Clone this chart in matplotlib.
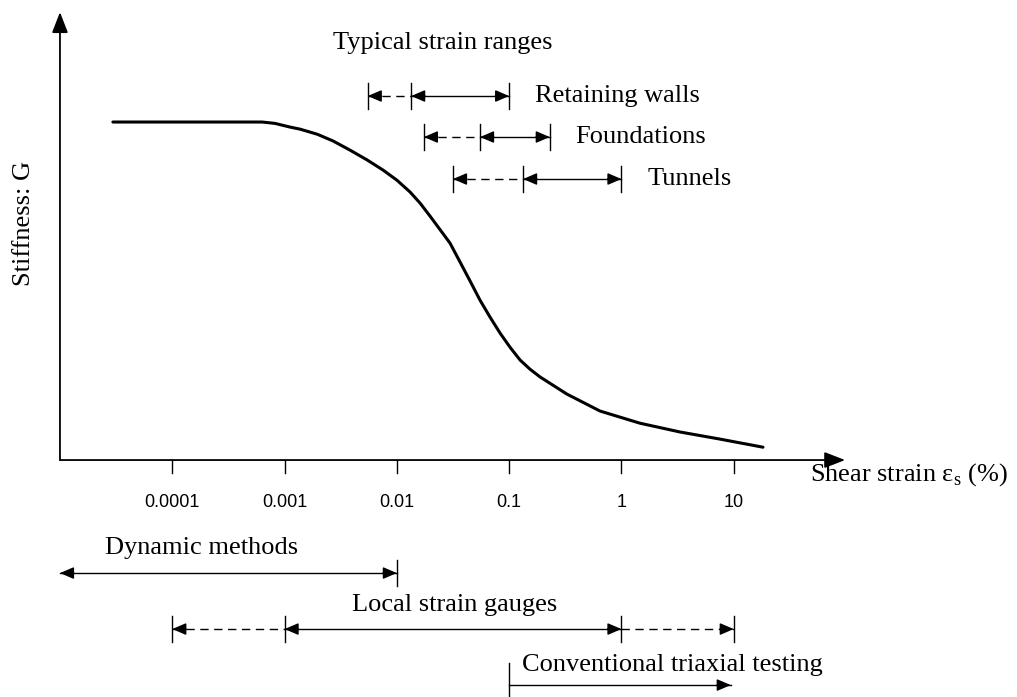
import numpy as np
import matplotlib.pyplot as plt

# stiffness curve (strain in %, G relative to the plateau)
strain = [2.96e-5, 6.3e-4, 8.2e-4, 1.12e-3, 1.37e-3, 1.95e-3, 2.70e-3, 3.82e-3,
          5.42e-3, 7.52e-3, 0.0100, 0.0131, 0.0161, 0.0197, 0.0297, 0.0365,
          0.0448, 0.0550, 0.0675, 0.0828, 0.1016, 0.125, 0.153, 0.188, 0.327,
          0.644, 1.46, 3.32, 7.53, 18.2]
stiffness = [1.0, 1.0, 0.996, 0.985, 0.979, 0.964, 0.944, 0.917,
             0.888, 0.858, 0.828, 0.793, 0.760, 0.722, 0.642, 0.586,
             0.530, 0.473, 0.423, 0.376, 0.334, 0.296, 0.269, 0.246, 0.195,
             0.145, 0.109, 0.083, 0.062, 0.038]

tick_values = [1e-4, 1e-3, 1e-2, 1e-1, 1, 10]
tick_labels = ['0.0001', '0.001', '0.01', '0.1', '1', '10']

# typical strain ranges: dashed low->mid, solid mid->high
structures = ['Retaining walls', 'Foundations', 'Tunnels']
struct_low = [0.0055, 0.0174, 0.0316]
struct_mid = [0.0134, 0.055, 0.133]
struct_high = [0.1, 0.23, 1.0]

# test methods
dynamic_range = [1e-5, 0.01]
local_range = [1e-4, 1e-3, 1, 10]      # dashed, solid, dashed
triaxial_range = [0.1, 9.4]

serif = 'Liberation Serif'
sans = 'Liberation Sans'
px = 1 / 338.0  # one pixel in G units

fig = plt.figure(figsize=(10.17, 6.97), dpi=100)
ax = fig.add_axes([0, 0, 1, 1])
ax.set_xscale('log')
ax.set_xlim(10 ** -5.534, 10 ** 3.522)
ax.set_ylim(-0.701, 1.361)
ax.axis('off')

arrow_kw = dict(arrowstyle='-|>,head_length=0.7,head_width=0.3', color='k',
                lw=1.0, shrinkA=0, shrinkB=0, mutation_scale=12)


def head(x, y, direction):
    # arrowhead pointing left (-1) or right (+1) with its tip at (x, y)
    ax.annotate('', xy=(x, y), xytext=(-direction * 10, 0),
                textcoords='offset points', arrowprops=arrow_kw)


def tick(x, y, up=13, down=13):
    ax.plot([x, x], [y - down * px, y + up * px], color='k', lw=1.0)


def solid(x0, x1, y):
    ax.plot([x0, x1], [y, y], color='k', lw=1.0)
    head(x0, y, -1)
    head(x1, y, 1)


def dashed(x0, x1, y, side):
    ax.plot([x0, x1], [y, y], color='k', lw=1.0, ls=(0, (6, 4)))
    if side < 0:
        head(x0, y, -1)
    else:
        head(x1, y, 1)


# axes with arrows
big_arrow = dict(arrowstyle='-|>,head_length=0.9,head_width=0.35',
                 color='k', lw=1.3, shrinkA=0, shrinkB=0, mutation_scale=14)
ax.annotate('', xy=(1e-5, 1.325), xytext=(1e-5, 0), arrowprops=big_arrow)
ax.annotate('', xy=(98, 0), xytext=(1e-5, 0), arrowprops=big_arrow)
for v, lab in zip(tick_values, tick_labels):
    ax.plot([v, v], [0, -13 * px], color='k', lw=1.0)
    ax.text(v, -42 * px, lab, family=sans, fontsize=13, ha='center', va='center')

ax.text(10 ** 1.68, -15 * px, 'Shear strain ε$_\\mathregular{s}$ (%)', family=serif,
        fontsize=19, ha='left', va='center')
ax.text(10 ** -5.32, 0.70, 'Stiffness: G', family=serif, fontsize=19,
        rotation=90, ha='center', va='center')

# curve
ax.plot(strain, stiffness, color='k', lw=2.2, solid_capstyle='round')

# typical strain ranges
ax.text(10 ** -1.59, (460 - 43) * px, 'Typical strain ranges', family=serif,
        fontsize=19, ha='center', va='center')
ys = [(460 - 96) * px, (460 - 137) * px, (460 - 179) * px]
for name, lo, mid, hi, y in zip(structures, struct_low, struct_mid, struct_high, ys):
    dashed(lo, mid, y, -1)
    solid(mid, hi, y)
    for v in (lo, mid, hi):
        tick(v, y)
    ax.text(hi * 10 ** 0.23, y, name, family=serif, fontsize=19, ha='left', va='center')

# dynamic methods
y = (460 - 573) * px
solid(dynamic_range[0], dynamic_range[1], y)
tick(dynamic_range[1], y)
ax.text(10 ** -3.735, (460 - 548) * px, 'Dynamic methods', family=serif,
        fontsize=19, ha='center', va='center')

# local strain gauges
y = (460 - 629) * px
dashed(local_range[0], local_range[1], y, -1)
solid(local_range[1], local_range[2], y)
dashed(local_range[2], local_range[3], y, 1)
for v in local_range:
    tick(v, y)
ax.text(10 ** -1.49, (460 - 605) * px, 'Local strain gauges', family=serif,
        fontsize=19, ha='center', va='center')

# conventional triaxial testing
y = (460 - 685) * px
ax.plot(triaxial_range, [y, y], color='k', lw=1.0)
head(triaxial_range[1], y, 1)
tick(triaxial_range[0], y, up=22, down=13)
ax.text(10 ** -0.89, (460 - 665) * px, 'Conventional triaxial testing', family=serif,
        fontsize=19, ha='left', va='center')

fig.savefig('out.png', dpi=100)
